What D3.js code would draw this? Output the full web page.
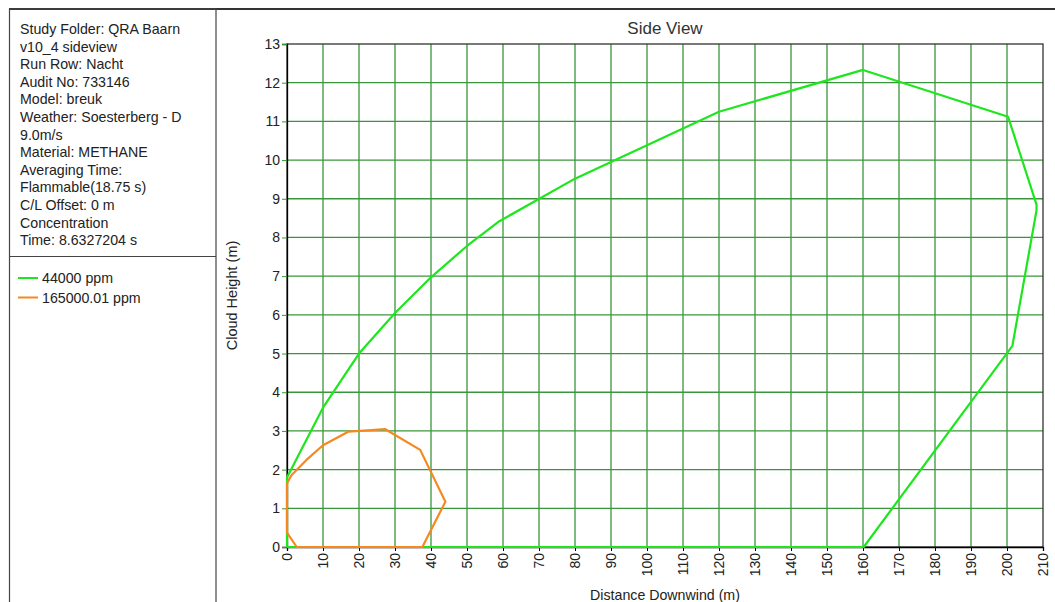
<!DOCTYPE html>
<html>
<head>
<meta charset="utf-8">
<script src="https://cdn.jsdelivr.net/npm/d3@7"></script>
<style>
  body { margin: 0; background: #fff; }
  svg { font-family: "Liberation Sans", Arial, sans-serif; }
</style>
</head>
<body>
<svg id="viz"></svg>
<script>
const width = 1055;
const height = 602;
const margin = {top: 44, right: 12, bottom: 55, left: 287};

// info panel text
const infoLines = [
  'Study Folder: QRA Baarn',
  'v10_4 sideview',
  'Run Row: Nacht',
  'Audit No: 733146',
  'Model: breuk',
  'Weather: Soesterberg - D',
  '9.0m/s',
  'Material: METHANE',
  'Averaging Time:',
  'Flammable(18.75 s)',
  'C/L Offset: 0 m',
  'Concentration',
  'Time: 8.6327204 s'
];

const seriesNames = ['44000 ppm', '165000.01 ppm'];
const seriesColors = ['#1ee61e', '#f5891f'];

// contour 44000 ppm: [distance, height]
const contour44000 = [
  [0, 0], [0, 1.8], [1, 1.98], [10, 3.6], [20, 5.0], [30, 6.05], [40, 6.97],
  [50, 7.78], [59, 8.42], [80, 9.52], [120, 11.25], [160, 12.33],
  [200.3, 11.12], [208.2, 8.85], [208.2, 8.7], [201.5, 5.2],
  [160.2, 0], [0, 0]
];

// contour 165000.01 ppm
const contour165000 = [
  [0, 1.65], [1.3, 1.86], [5.4, 2.25], [10, 2.63], [17, 2.98], [23.5, 3.02],
  [27.2, 3.05], [37, 2.51], [44, 1.17], [37.6, 0], [2.7, 0], [0, 0.37], [0, 1.65]
];

const xTicks = d3.range(0, 211, 10);
const yTicks = d3.range(0, 14, 1);

const svg = d3.select('#viz')
  .attr('width', width)
  .attr('height', height);

// panel frames
svg.append('line')
  .attr('x1', 9).attr('x2', width).attr('y1', 9).attr('y2', 9)
  .attr('stroke', '#333').attr('stroke-width', 2);
svg.append('rect')
  .attr('x', 9.5).attr('y', 9).attr('width', 206.5).attr('height', height)
  .attr('fill', 'none').attr('stroke', '#444').attr('stroke-width', 1.2);
svg.append('line')
  .attr('x1', 9).attr('x2', 216).attr('y1', 256.5).attr('y2', 256.5)
  .attr('stroke', '#444').attr('stroke-width', 1.2);

// info text
svg.append('g')
  .selectAll('text')
  .data(infoLines)
  .join('text')
  .attr('x', 20)
  .attr('y', (d, i) => 34 + i * 17.6)
  .attr('font-size', 14.2)
  .attr('fill', '#222')
  .text(d => d);

// legend
const legend = svg.append('g')
  .selectAll('g')
  .data(seriesNames)
  .join('g')
  .attr('transform', (d, i) => `translate(18, ${278 + i * 19.5})`);
legend.append('line')
  .attr('x1', 0).attr('x2', 20)
  .attr('stroke', (d, i) => seriesColors[i])
  .attr('stroke-width', 2);
legend.append('text')
  .attr('x', 24).attr('y', 5)
  .attr('font-size', 14.2)
  .attr('fill', '#222')
  .text(d => d);

// scales
const x = d3.scaleLinear()
  .domain([0, 210])
  .range([margin.left, width - margin.right]);
const y = d3.scaleLinear()
  .domain([0, 13])
  .range([height - margin.bottom, margin.top]);

// grid
const gridColor = '#3a963a';
svg.append('g')
  .selectAll('line')
  .data(xTicks.filter(d => d > 0 && d < 210))
  .join('line')
  .attr('x1', d => x(d)).attr('x2', d => x(d))
  .attr('y1', y(13)).attr('y2', y(0))
  .attr('stroke', gridColor).attr('stroke-width', 1.3);
svg.append('g')
  .selectAll('line')
  .data(yTicks.filter(d => d > 0 && d < 13))
  .join('line')
  .attr('x1', x(0)).attr('x2', x(210))
  .attr('y1', d => y(d)).attr('y2', d => y(d))
  .attr('stroke', gridColor).attr('stroke-width', 1.3);

// plot border
svg.append('rect')
  .attr('x', x(0)).attr('y', y(13))
  .attr('width', x(210) - x(0)).attr('height', y(0) - y(13))
  .attr('fill', 'none').attr('stroke', '#333').attr('stroke-width', 1.3);

// axes
const xAxis = svg.append('g')
  .attr('transform', `translate(0, ${y(0)})`)
  .call(d3.axisBottom(x).tickValues(xTicks).tickSize(4).tickPadding(3));
xAxis.select('.domain').attr('stroke', '#000').attr('stroke-width', 1.3);
xAxis.selectAll('.tick line').attr('stroke', '#000');
xAxis.selectAll('.tick text')
  .attr('font-size', 14)
  .attr('fill', '#222')
  .attr('text-anchor', 'end')
  .attr('dy', '0.35em')
  .attr('transform', 'rotate(-90)')
  .attr('x', -6)
  .attr('y', 0);

const yAxis = svg.append('g')
  .attr('transform', `translate(${x(0)}, 0)`)
  .call(d3.axisLeft(y).tickValues(yTicks).tickSize(5).tickPadding(2));
yAxis.select('.domain').attr('stroke', '#000').attr('stroke-width', 1.3);
yAxis.selectAll('.tick line').attr('stroke', gridColor);
yAxis.selectAll('.tick text').attr('font-size', 14).attr('fill', '#222');

// titles
svg.append('text')
  .attr('x', (x(0) + x(210)) / 2).attr('y', 34)
  .attr('text-anchor', 'middle')
  .attr('font-size', 17)
  .attr('fill', '#333')
  .text('Side View');
svg.append('text')
  .attr('x', (x(0) + x(210)) / 2).attr('y', 600)
  .attr('text-anchor', 'middle')
  .attr('font-size', 14.2)
  .attr('fill', '#222')
  .text('Distance Downwind (m)');
svg.append('text')
  .attr('transform', `translate(237, ${(y(0) + y(13)) / 2}) rotate(-90)`)
  .attr('text-anchor', 'middle')
  .attr('font-size', 14.5)
  .attr('fill', '#222')
  .text('Cloud Height (m)');

// contours
const line = d3.line().x(d => x(d[0])).y(d => y(d[1]));
[contour44000, contour165000].forEach((c, i) => {
  svg.append('path')
    .attr('d', line(c))
    .attr('fill', 'none')
    .attr('stroke', seriesColors[i])
    .attr('stroke-width', 2.2)
    .attr('stroke-linejoin', 'round');
});
</script>
</body>
</html>
